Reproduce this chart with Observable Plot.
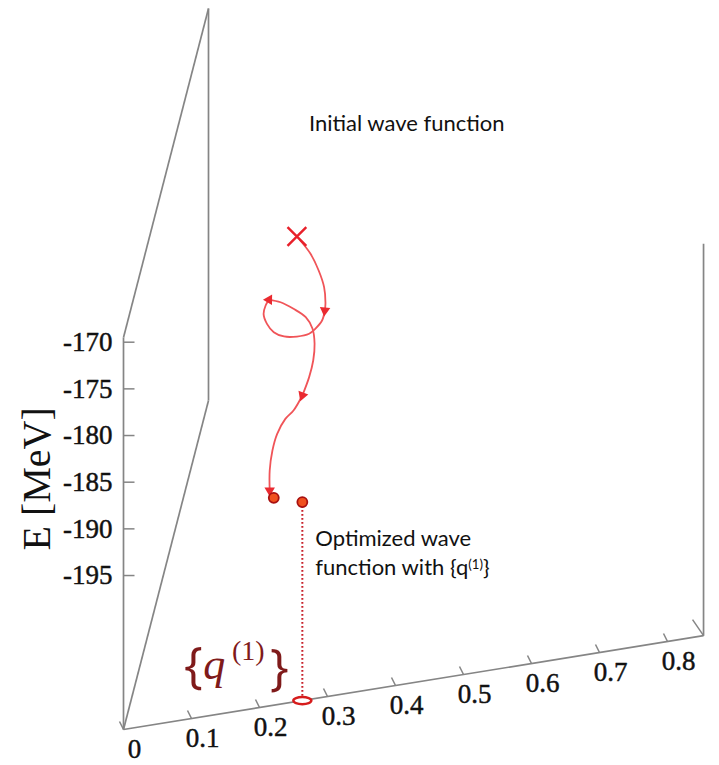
<!DOCTYPE html>
<html>
<head>
<meta charset="utf-8">
<script src="https://cdn.jsdelivr.net/npm/d3@7"></script>
<script src="https://cdn.jsdelivr.net/npm/@observablehq/plot@0.6"></script>
<style>
  html, body { margin: 0; padding: 0; background: #fff; }
  #chart svg { display: block; }
</style>
</head>
<body>
<div id="chart"></div>
<script>
// ---------------- data ----------------
const Q_TICKS  = [0, 0.1, 0.2, 0.3, 0.4, 0.5, 0.6, 0.7, 0.8];
const Q_LABELS = ["0", "0.1", "0.2", "0.3", "0.4", "0.5", "0.6", "0.7", "0.8"];
const E_TICKS  = [-170, -175, -180, -185, -190, -195];
const E_LABELS = ["-170", "-175", "-180", "-185", "-190", "-195"];
const Q_RANGE  = [0, 0.853];        // extent of the q axis
const E_RANGE  = [-211.5, -169.5];  // extent of the energy box

// optimisation trajectory (q, E) in segments, each ending with an arrow
const pathSeg = [1,1,1,1,1,1, 2,2,2,2,2,2,2,2,2,2,2, 3,3,3,3,3,3,3,3,3, 4,4,4,4,4,4,4];
const pathQ = [0.260,0.275,0.287,0.295,0.297,0.296,
               0.296,0.292,0.282,0.273,0.255,0.236,0.221,0.211,0.206,0.209,0.214,
               0.214,0.231,0.250,0.268,0.278,0.281,0.279,0.273,0.263,
               0.263,0.250,0.238,0.226,0.219,0.215,0.215];
const pathE = [-162.17,-163.77,-165.70,-167.58,-169.39,-170.09,
               -170.09,-171.12,-171.89,-172.31,-172.40,-172.17,-171.53,-170.52,-169.39,-168.53,-167.98,
               -167.98,-168.44,-169.37,-170.48,-171.83,-173.48,-175.25,-176.96,-178.81,
               -178.81,-180.27,-181.02,-182.48,-184.18,-186.28,-188.43];

const initialQ = 0.255, initialE = -161.68;                 // initial wave function (x)
const finalQ = [0.221, 0.263], finalE = [-189.28, -190.23]; // end points
const q1 = 0.263;                                           // {q(1)} on the q axis

const initialLabel = "Initial wave function";
const optLabel1 = "Optimized wave";
const optLabel2 = "function with {q(1)}";
const qSetLabel = ["{", "q", "(1)", "}"];
const yTitle = "E [MeV]";

// ---------------- oblique projection (q, depth, E) -> plane ----------------
const Q_RISE = 11.786;   // vertical rise of the q axis, in MeV per unit q
const D_Q = 0.125;       // depth axis horizontal shift, in q units
const D_E = 35.25;       // depth axis vertical shift, in MeV
const px = (q, d = 0) => q + d * D_Q;
const py = (q, d = 0, e) => e + q * Q_RISE + d * D_E;
const PX_PER_Q = 680, PX_PER_E = 9.333;

// box edges
const edges = [
  {q1: 0, d1: 0, e1: E_RANGE[0], q2: 0, d2: 0, e2: E_RANGE[1]},
  {q1: 0, d1: 1, e1: E_RANGE[0], q2: 0, d2: 1, e2: E_RANGE[1]},
  {q1: 0, d1: 0, e1: E_RANGE[1], q2: 0, d2: 1, e2: E_RANGE[1]},
  {q1: 0, d1: 0, e1: E_RANGE[0], q2: 0, d2: 1, e2: E_RANGE[0]},
  {q1: 0, d1: 0, e1: E_RANGE[0], q2: Q_RANGE[1], d2: 0, e2: E_RANGE[0]},
  {q1: Q_RANGE[1], d1: 0, e1: E_RANGE[0], q2: Q_RANGE[1], d2: 0, e2: E_RANGE[1]}
];

const path = pathQ.map((q, i) => ({seg: pathSeg[i], x: px(q), y: py(q, 0, pathE[i])}));
const arrows = d3.groups(path, d => d.seg).map(([, pts]) => {
  const a = pts[pts.length - 2], b = pts[pts.length - 1];
  const dx = (b.x - a.x) * PX_PER_Q, dy = -(b.y - a.y) * PX_PER_E;
  return {x: b.x, y: b.y, angle: Math.atan2(dx, -dy) * 180 / Math.PI};
});
const qTicks = Q_TICKS.map((q, i) => ({x: px(q), y: py(q, 0, E_RANGE[0]), label: Q_LABELS[i]}));
const eTicks = E_TICKS.map((e, i) => ({x: px(0), y: py(0, 0, e), label: E_LABELS[i]}));
const finals = finalQ.map((q, i) => ({x: px(q), y: py(q, 0, finalE[i])}));
const start = {x: px(initialQ), y: py(initialQ, 0, initialE)};
const q1Pt = {x: px(q1), y: py(q1, 0, E_RANGE[0])};
const optPt = finals[1];
const corner = {x: px(Q_RANGE[1]), y: py(Q_RANGE[1], 0, E_RANGE[0])};

const ellipse = {
  draw(ctx, size) {
    const rx = Math.sqrt(size / Math.PI), ry = rx * 0.4, k = 0.5523;
    ctx.moveTo(rx, 0);
    ctx.bezierCurveTo(rx, ry * k, rx * k, ry, 0, ry);
    ctx.bezierCurveTo(-rx * k, ry, -rx, ry * k, -rx, 0);
    ctx.bezierCurveTo(-rx, -ry * k, -rx * k, -ry, 0, -ry);
    ctx.bezierCurveTo(rx * k, -ry, rx, -ry * k, rx, 0);
    ctx.closePath();
  }
};

const W = 719, H = 765;
const serif = "'Liberation Serif', 'Times New Roman', serif";
const sans = "Lato, 'Open Sans', sans-serif";
const dark = "#7f1a1a";
const gray = "#858585";

const chart = Plot.plot({
  width: W, height: H, margin: 0,
  x: {domain: [-123 / PX_PER_Q, (W - 123) / PX_PER_Q], axis: null},
  y: {domain: [-170 - (H - 341.7) / PX_PER_E, -170 + 341.7 / PX_PER_E], axis: null},
  style: {background: "#fff", overflow: "visible"},
  marks: [
    Plot.link(edges, {
      x1: d => px(d.q1, d.d1), y1: d => py(d.q1, d.d1, d.e1),
      x2: d => px(d.q2, d.d2), y2: d => py(d.q2, d.d2, d.e2),
      stroke: gray, strokeWidth: 1.7
    }),
    // energy ticks & labels
    Plot.link(eTicks, {x1: "x", y1: "y", x2: d => d.x + 11 / PX_PER_Q, y2: "y", stroke: gray, strokeWidth: 1.5}),
    Plot.text(eTicks, {x: "x", y: "y", text: "label", textAnchor: "end", dx: -11, fontSize: 27, fontFamily: serif,
      fill: "#111", stroke: "#111", strokeWidth: 0.45}),
    // q ticks & labels
    Plot.link(qTicks, {x1: "x", y1: "y", x2: d => d.x - 4 / PX_PER_Q, y2: d => d.y + 8 / PX_PER_E, stroke: gray, strokeWidth: 1.5}),
    Plot.link([corner], {x1: "x", y1: "y", x2: d => d.x - 11 / PX_PER_Q, y2: d => d.y + 16 / PX_PER_E,
      stroke: gray, strokeWidth: 1.5}),
    Plot.text(qTicks, {x: "x", y: "y", text: "label", dx: 11, dy: 20, fontSize: 27, fontFamily: serif,
      fill: "#111", stroke: "#111", strokeWidth: 0.45}),
    // axis title
    Plot.text([yTitle], {x: px(0), y: py(0, 0, -182.5), text: d => d, rotate: -90, dx: -86, dy: 20,
      fontSize: 40, fontFamily: serif, fill: "#111"}),
    // dotted projection to {q(1)}
    Plot.link([optPt], {x1: "x", y1: "y", x2: q1Pt.x, y2: q1Pt.y, stroke: "#c8202a", strokeWidth: 2, strokeDasharray: "1.6,2.4"}),
    Plot.dot([q1Pt], {x: "x", y: "y", symbol: ellipse, r: 9, stroke: "#d61c1c", strokeWidth: 2.5, fill: "#fff"}),
    // trajectory
    Plot.line(path, {x: "x", y: "y", z: "seg", curve: "catmull-rom", stroke: "#f05458", strokeWidth: 1.8}),
    Plot.dot(arrows, {x: "x", y: "y", rotate: "angle", symbol: "triangle2", r: 5, fill: "#ea2a30"}),
    Plot.dot([start], {x: "x", y: "y", symbol: "times", r: 8.6, stroke: "#e8202a", strokeWidth: 2.4}),
    Plot.dot(finals, {x: "x", y: "y", r: 5, fill: "#f0501e", stroke: "#a81010", strokeWidth: 1.8}),
    // annotations
    Plot.text([initialLabel], {x: start.x, y: start.y, text: d => d, textAnchor: "start", dx: 12, dy: -113,
      fontSize: 22, fontFamily: sans, fill: "#111"}),
    Plot.text([optLabel1], {x: optPt.x, y: optPt.y, text: d => d, textAnchor: "start", dx: 13, dy: 37,
      fontSize: 22, fontFamily: sans, fill: "#111"}),
    Plot.text([optLabel2], {x: optPt.x, y: optPt.y, text: d => d, textAnchor: "start", dx: 13, dy: 66,
      fontSize: 22, fontFamily: sans, fill: "#111"}),
    // {q(1)} label
    Plot.text([qSetLabel[0]], {x: q1Pt.x, y: q1Pt.y, text: d => d, dx: -109, dy: -35, fontSize: 50, fontFamily: "'Open Sans', sans-serif", fill: dark}),
    Plot.text([qSetLabel[1]], {x: q1Pt.x, y: q1Pt.y, text: d => d, dx: -88, dy: -36, fontSize: 44, fontStyle: "italic", fontFamily: serif, fill: dark}),
    Plot.text([qSetLabel[2]], {x: q1Pt.x, y: q1Pt.y, text: d => d, dx: -54, dy: -50, fontSize: 28, fontFamily: serif, fill: dark}),
    Plot.text([qSetLabel[3]], {x: q1Pt.x, y: q1Pt.y, text: d => d, dx: -23, dy: -33, fontSize: 50, fontFamily: "'Open Sans', sans-serif", fill: dark})
  ]
});

// superscript in the annotation
d3.select(chart).selectAll("text").each(function () {
  if (this.textContent === optLabel2) {
    const t = d3.select(this);
    t.text(null);
    t.append("tspan").text("function with {q");
    t.append("tspan").attr("dy", "-0.45em").attr("font-size", "0.6em").text("(1)");
    t.append("tspan").attr("dy", "0.27em").text("}");
  }
});

document.getElementById("chart").appendChild(chart);
</script>
</body>
</html>
